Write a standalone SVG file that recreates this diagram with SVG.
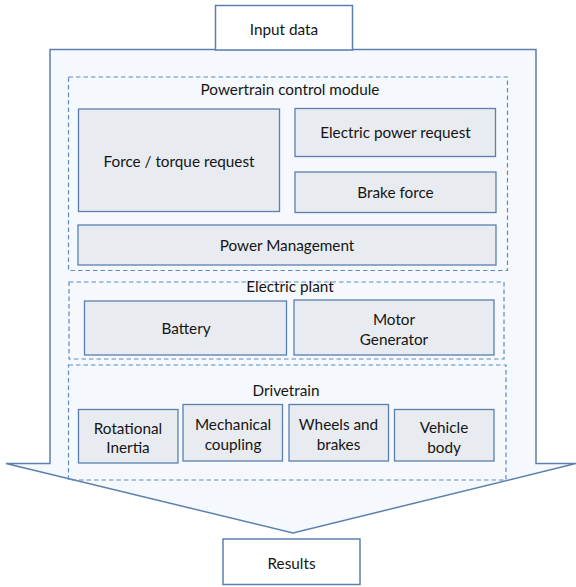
<svg xmlns="http://www.w3.org/2000/svg" width="576" height="587" viewBox="0 0 576 587">
<style>
.box{fill:#E8EBEF;stroke:#5B80AE;stroke-width:1.3}
.io{fill:#FFFFFF;stroke:#5B80AE;stroke-width:1.5}
.grp{fill:none;stroke:#5F8BBF;stroke-width:1.2;stroke-dasharray:4.5,3}
.arrow{fill:#F5F8FC;stroke:#5B80AE;stroke-width:1.5}
text{font-family:Lato,"Open Sans","Liberation Sans",sans-serif;font-size:15.3px;fill:#151515;text-anchor:middle}
</style>
<rect width="576" height="587" fill="#FFFFFF"/>
<g id="arrow">
<path class="arrow" d="M50,49.5 H536 V463.5 H576 L293,533 L6,463.5 H50 Z"/>
</g>
<g id="input">
<rect class="io" x="215.5" y="5.5" width="137" height="44.5"/>
<text x="284" y="34.5">Input data</text>
</g>
<g id="pcm">
<rect class="grp" x="68.5" y="77" width="439" height="193.5"/>
<text x="290" y="94.5">Powertrain control module</text>
</g>
<g id="force">
<rect class="box" x="78.5" y="109" width="201" height="102.5"/>
<text x="179" y="166.5">Force / torque request</text>
</g>
<g id="epr">
<rect class="box" x="295" y="108.5" width="200.5" height="48"/>
<text x="395.5" y="138">Electric power request</text>
</g>
<g id="brake">
<rect class="box" x="295" y="172" width="201" height="40.5"/>
<text x="395.5" y="198">Brake force</text>
</g>
<g id="pm">
<rect class="box" x="78" y="225" width="418" height="40"/>
<text x="287" y="250.5">Power Management</text>
</g>
<g id="ep">
<rect class="grp" x="69" y="282" width="435" height="77"/>
<text x="290" y="292">Electric plant</text>
</g>
<g id="battery">
<rect class="box" x="84.5" y="301" width="202" height="54"/>
<text x="186" y="334">Battery</text>
</g>
<g id="motor">
<rect class="box" x="294" y="300" width="200" height="55"/>
<text x="394" y="324.5">Motor</text>
<text x="394" y="344.5">Generator</text>
</g>
<g id="dt">
<rect class="grp" x="68.5" y="365" width="437.5" height="115"/>
<text x="286" y="396">Drivetrain</text>
</g>
<g id="rot">
<rect class="box" x="78.5" y="409.5" width="99.5" height="53.5"/>
<text x="128" y="433.5">Rotational</text>
<text x="128" y="453">Inertia</text>
</g>
<g id="mech">
<rect class="box" x="183" y="404.5" width="99.5" height="56.5"/>
<text x="233" y="429.5">Mechanical</text>
<text x="233" y="449.5">coupling</text>
</g>
<g id="wheels">
<rect class="box" x="289" y="404.5" width="99.5" height="56.5"/>
<text x="338.5" y="429.5">Wheels and</text>
<text x="338.5" y="449.5">brakes</text>
</g>
<g id="vehicle">
<rect class="box" x="394.5" y="409.5" width="99.5" height="51.5"/>
<text x="444" y="432.5">Vehicle</text>
<text x="444" y="452.5">body</text>
</g>
<g id="results">
<rect class="io" x="223" y="539" width="137" height="45.5"/>
<text x="291.5" y="568.5">Results</text>
</g>
<g id="connectors"></g>
</svg>
